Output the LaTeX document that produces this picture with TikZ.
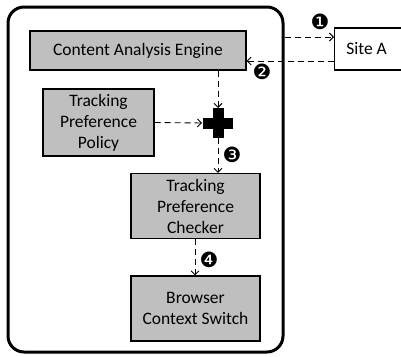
\documentclass[tikz,border=0pt]{standalone}
\usepackage{fontspec}
\setmainfont{Carlito}
\newfontfamily\dingfont{DejaVu Sans}
\usetikzlibrary{arrows.meta}
\begin{document}
\begin{tikzpicture}[x=1pt,y=-1pt,
  box/.style={draw=black, line width=1.2pt, fill=gray!50, align=center, font=\fontsize{17.5}{21}\selectfont, inner sep=0pt},
  flow/.style={draw=black, line width=0.9pt, dash pattern=on 6pt off 4pt, -{Straight Barb[length=4pt,width=8pt]}},
  num/.style={font=\dingfont\fontsize{21}{21}\selectfont, inner sep=0pt}]
\useasboundingbox (0,0) rectangle (401,356);
\fill[white] (0,0) rectangle (401,356);
\draw[line width=3pt, rounded corners=16pt] (8,7) rectangle (283,352);
\node[box, minimum width=216pt, minimum height=39pt] (cae) at (138,50.5) {Content Analysis Engine};
\node[box, minimum width=111pt, minimum height=67pt] (tpp) at (98.5,122.5) {Tracking\\Preference\\Policy};
\node[box, minimum width=129pt, minimum height=65pt] (tpc) at (195.5,206) {Tracking\\Preference\\Checker};
\node[box, minimum width=129pt, minimum height=65pt] (bcs) at (195.5,308.5) {Browser\\Context Switch};
\node[draw=black, line width=1.2pt, fill=white, minimum width=80pt, minimum height=42pt, anchor=west, font=\fontsize{17.5}{21}\selectfont, inner sep=0pt] (site) at (334,49) {\hspace*{-16pt}Site A};
\coordinate (plus) at (218,123);
\fill (plus) ++(-15,-5.5) rectangle ++(30,11);
\fill (plus) ++(-5.5,-15) rectangle ++(11,30);
\coordinate (pt) at (218,108);
\coordinate (pl) at (202,123);
\coordinate (pb) at (218,138);
\coordinate (b1) at (285,37);
\draw[flow] (b1) -- (site.west |- b1);
\draw[flow] (site.west |- 0,61) -- (cae.east |- 0,61);
\draw[flow] (cae.south -| pt) -- (pt);
\draw[flow] (tpp.east) -- (pl);
\draw[flow] (pb) -- (tpc.north -| pb);
\draw[flow] (tpc.south -| 195,0) -- (bcs.north -| 195,0);
\node[num] (n1) at (320,22) {❶};
\node[num] (n2) at (262,72) {❷};
\node[num] (n3) at (232,155) {❸};
\node[num] (n4) at (209,260) {❹};
\end{tikzpicture}
\end{document}
